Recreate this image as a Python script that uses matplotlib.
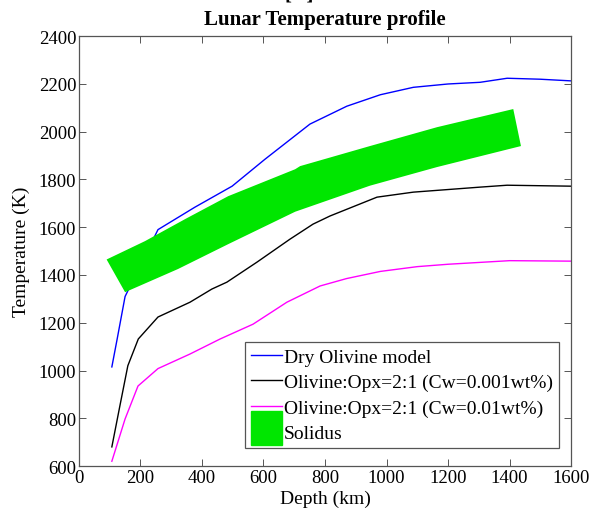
import matplotlib
matplotlib.use('Agg')
import matplotlib.pyplot as plt
from matplotlib.patches import Rectangle, Patch
from matplotlib.legend_handler import HandlerPatch

plt.rcParams['font.family'] = ['Liberation Serif', 'DejaVu Serif']

# Dry olivine model
dry_depth = [107, 124, 150, 257, 377, 498, 605, 751, 871, 980, 1087, 1200, 1304, 1392, 1499, 1600]
dry_temp = [1015, 1130, 1310, 1590, 1684, 1772, 1885, 2032, 2107, 2155, 2186, 2200, 2207, 2224, 2220, 2213]

# Olivine:Opx=2:1 (Cw=0.001wt%)
ol1_depth = [107, 133, 159, 193, 257, 361, 432, 481, 579, 686, 761, 816, 969, 1087, 1304, 1392, 1600]
ol1_temp = [680, 851, 1020, 1132, 1224, 1286, 1341, 1370, 1454, 1550, 1613, 1647, 1726, 1747, 1768, 1776, 1772]

# Olivine:Opx=2:1 (Cw=0.01wt%)
ol2_depth = [107, 150, 192, 257, 361, 459, 566, 676, 784, 870, 980, 1100, 1200, 1400, 1600]
ol2_temp = [620, 797, 935, 1008, 1069, 1132, 1194, 1286, 1354, 1385, 1415, 1435, 1445, 1460, 1458]

# Solidus band (upper and lower edges)
sol_up_depth = [90, 215, 345, 485, 703, 719, 946, 1164, 1412]
sol_up_temp = [1465, 1542, 1634, 1730, 1843, 1856, 1940, 2019, 2095]
sol_lo_depth = [150, 322, 485, 703, 946, 1164, 1437]
sol_lo_temp = [1328, 1425, 1529, 1665, 1774, 1852, 1940]

green = '#00e600'
axcol = '#555555'

fig = plt.figure(figsize=(5.98, 5.10), dpi=100)
ax = fig.add_axes([0.132, 0.0843, 0.823, 0.8427])

poly_x = sol_up_depth + sol_lo_depth[::-1]
poly_y = sol_up_temp + sol_lo_temp[::-1]

ax.plot(dry_depth, dry_temp, color='#0000ff', lw=1.0, label='Dry Olivine model', zorder=2)
ax.plot(ol1_depth, ol1_temp, color='black', lw=1.0, label='Olivine:Opx=2:1 (Cw=0.001wt%)', zorder=2)
ax.plot(ol2_depth, ol2_temp, color='#ff00ff', lw=1.0, label='Olivine:Opx=2:1 (Cw=0.01wt%)', zorder=2)
ax.fill(poly_x, poly_y, color=green, lw=0, zorder=3)

ax.set_xlim(0, 1600)
ax.set_ylim(600, 2400)
ax.set_xticks(range(0, 1601, 200))
ax.set_yticks(range(600, 2401, 200))
ax.tick_params(direction='in', top=True, right=True, length=5, width=0.7,
               color=axcol, labelsize=13.5, pad=2)
for s in ax.spines.values():
    s.set_linewidth(0.9)
    s.set_color(axcol)

ax.set_xlabel('Depth (km)', fontsize=14, labelpad=3)
ax.set_ylabel('Temperature (K)', fontsize=14, labelpad=6)
ax.set_title('Lunar Temperature profile', fontsize=15, fontweight='bold', pad=9)
fig.text(0.5, 1 - 5 / 510, '[...]', ha='center', va='bottom', fontsize=15, fontweight='bold')


def big_patch(legend, orig_handle, xdescent, ydescent, width, height, fontsize):
    return Rectangle((-xdescent, -ydescent - 0.5 * height), width, height * 2.5)


handles, labels = ax.get_legend_handles_labels()
handles.append(Patch(color=green))
labels.append('Solidus')
leg = ax.legend(handles, labels, loc='lower left', bbox_to_anchor=(0.337, 0.042),
                fontsize=14, fancybox=False, edgecolor=axcol, framealpha=1,
                borderaxespad=0, borderpad=0.3, handlelength=1.6,
                handletextpad=0.1, labelspacing=0.4,
                handler_map={Patch: HandlerPatch(patch_func=big_patch)})
leg.get_frame().set_linewidth(0.9)

fig.savefig('out.png', dpi=100)
